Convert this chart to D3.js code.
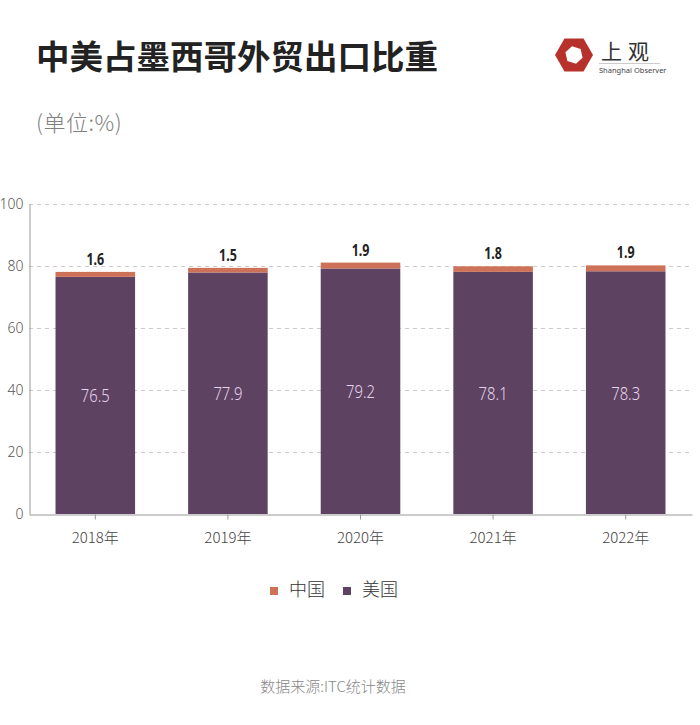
<!DOCTYPE html>
<html><head><meta charset="utf-8">
<script src="https://cdn.jsdelivr.net/npm/d3@7/dist/d3.min.js"></script>
<style>body{margin:0;background:#fff}svg{display:block}</style>
</head><body>
<svg id="c" width="700" height="725"></svg>
<script>
const years = ["2018年","2019年","2020年","2021年","2022年"];
const china = [1.6,1.5,1.9,1.8,1.9];
const usa = [76.5,77.9,79.2,78.1,78.3];
const yTicks = [0,20,40,60,80,100];
const seriesNames = ["中国","美国"];

const svg = d3.select("#c");
const cnFont = "'Noto Sans CJK SC', sans-serif";
const narrow = "'Noto Sans', sans-serif";
const purple = "#5d4262", orange = "#cd7158";

svg.append("text").attr("x",36).attr("y",69).text("中美占墨西哥外贸出口比重")
  .attr("font-family",cnFont).attr("font-weight",700).attr("font-size",33.5).attr("fill","#222");
svg.append("text").attr("x",36).attr("y",131).text("(单位:%)")
  .attr("font-family",cnFont).attr("font-weight",300).attr("font-size",22).attr("letter-spacing",0.5).attr("fill","#808080");

// logo
const lg = svg.append("g").attr("transform","translate(574,55)");
const hex = d3.range(6).map(i=>{const a=Math.PI/3*i;return [19*Math.cos(a),19*Math.sin(a)];});
lg.append("polygon").attr("points",hex.map(p=>p.join(",")).join(" ")).attr("fill","#b8322c");
const hex2 = d3.range(6).map(i=>{const a=Math.PI/3*i+0.3;return [9*Math.cos(a),9*Math.sin(a)];});
lg.append("polygon").attr("points",hex2.map(p=>p.join(",")).join(" ")).attr("fill","#fff");
svg.append("text").attr("x",601).attr("y",59).text("上观").attr("font-family",cnFont)
  .attr("font-size",21).attr("fill","#333").attr("letter-spacing",6);
svg.append("line").attr("x1",599).attr("x2",660).attr("y1",63.5).attr("y2",63.5).attr("stroke","#ccc");
svg.append("text").attr("x",599).attr("y",73).text("Shanghai Observer").attr("font-family",narrow)
  .attr("font-size",7.5).attr("fill","#444");

const x = d3.scaleBand().domain(years).range([29,692]).paddingInner(0.4).paddingOuter(0.2);
const y = d3.scaleLinear().domain([0,100]).range([514,204]);

// grid
svg.append("g").selectAll("line").data(yTicks.filter(d=>d>0)).join("line")
  .attr("x1",29).attr("x2",692).attr("y1",d=>y(d)+0.5).attr("y2",d=>y(d)+0.5)
  .attr("stroke","#ccc").attr("stroke-dasharray","4,4");

const ya = svg.append("g").attr("transform","translate(29.5,0)")
  .call(d3.axisLeft(y).tickValues(yTicks).tickSize(0).tickPadding(6));
ya.select(".domain").attr("stroke","#999");
ya.selectAll("text").attr("font-family",narrow).attr("font-weight",300).attr("font-size",14).attr("fill","#555");

const xa = svg.append("g").attr("transform","translate(0,514.5)")
  .call(d3.axisBottom(x).tickSize(5).tickPadding(13).tickSizeOuter(0));
xa.select(".domain").attr("stroke","#999");
xa.selectAll(".tick line").attr("stroke","#999");
xa.selectAll("text").attr("font-family",cnFont).attr("font-weight",300).attr("font-size",15).attr("fill","#444");

svg.append("g").selectAll("rect").data(years).join("rect")
  .attr("x",d=>x(d)).attr("width",x.bandwidth())
  .attr("y",(d,i)=>y(usa[i])).attr("height",(d,i)=>y(0)-y(usa[i])).attr("fill",purple);
svg.append("g").selectAll("rect").data(years).join("rect")
  .attr("x",d=>x(d)).attr("width",x.bandwidth())
  .attr("y",(d,i)=>y(usa[i]+china[i])).attr("height",(d,i)=>y(usa[i])-y(usa[i]+china[i])).attr("fill",orange);

svg.append("g").selectAll("text").data(years).join("text")
  .attr("transform",(d,i)=>`translate(${x(d)+x.bandwidth()/2},${y(usa[i]/2)+7}) scale(0.78,1)`)
  .attr("text-anchor","middle").text((d,i)=>usa[i].toFixed(1))
  .attr("font-family",narrow).attr("font-weight",300).attr("font-size",19).attr("fill","#e6d3ea");
svg.append("g").selectAll("text").data(years).join("text")
  .attr("transform",(d,i)=>`translate(${x(d)+x.bandwidth()/2},${y(usa[i]+china[i])-7}) scale(0.78,1)`)
  .attr("text-anchor","middle").text((d,i)=>china[i].toFixed(1))
  .attr("font-family",narrow).attr("font-weight",700).attr("font-size",16).attr("fill","#222");

// legend
const leg = [{n:seriesNames[0],c:orange,x:270},{n:seriesNames[1],c:purple,x:343}];
const lgG = svg.append("g").selectAll("g").data(leg).join("g");
lgG.append("rect").attr("x",d=>d.x).attr("y",587).attr("width",8).attr("height",8).attr("fill",d=>d.c);
lgG.append("text").attr("x",d=>d.x+19).attr("y",590).attr("dy","0.35em").text(d=>d.n)
  .attr("font-family",cnFont).attr("font-weight",300).attr("font-size",18).attr("fill","#333");

svg.append("text").attr("x",333).attr("y",692).attr("text-anchor","middle").text("数据来源:ITC统计数据")
  .attr("font-family",cnFont).attr("font-weight",300).attr("font-size",15).attr("fill","#888");
</script>
</body></html>
